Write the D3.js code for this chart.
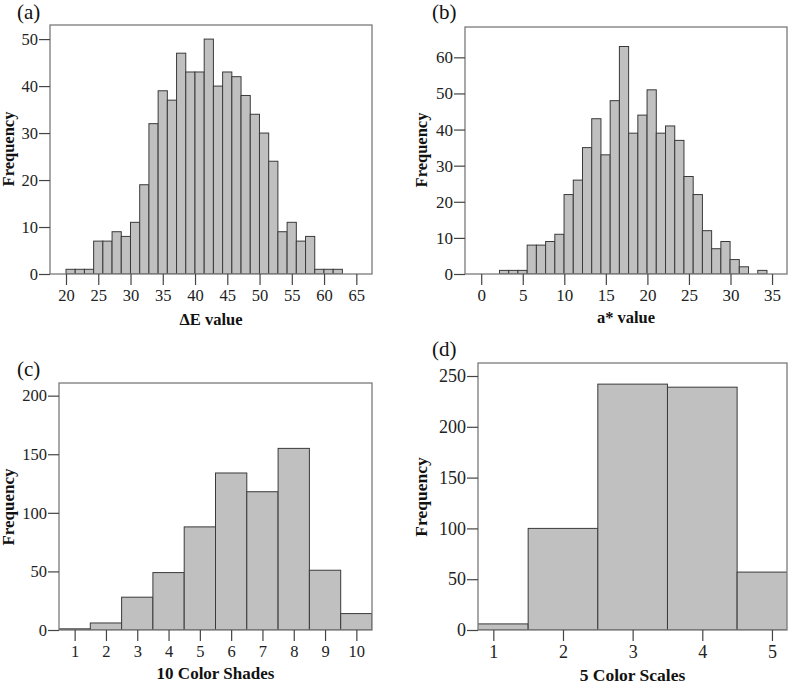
<!DOCTYPE html>
<html>
<head>
<meta charset="utf-8">
<script src="https://cdn.jsdelivr.net/npm/d3@7"></script>
<style>
  html, body { margin: 0; padding: 0; background: #fff; }
  svg { display: block; }
  text { font-family: "Liberation Serif", "Times New Roman", serif; fill: #111; }
</style>
</head>
<body>
<svg id="chart" width="789" height="685"></svg>
<script>
// ---------------- DATA ----------------
// (a) ΔE value histogram
const deltaEBinStart = 20.0;
const deltaEBinWidth = 1.428;
const deltaECounts = [1, 1, 1, 7, 7, 9, 8, 11, 19, 32, 39, 37, 47, 43, 43, 50, 40, 43, 42, 38, 34, 30, 24, 9, 11, 7, 8, 1, 1, 1];
const deltaEXTicks = [20, 25, 30, 35, 40, 45, 50, 55, 60, 65];
const deltaEYTicks = [0, 10, 20, 30, 40, 50];

// (b) a* value histogram
const aStarBinStart = 2.2;
const aStarBinWidth = 1.11;
const aStarCounts = [1, 1, 1, 8, 8, 9, 11, 22, 26, 35, 43, 33, 48, 63, 39, 44, 51, 39, 41, 37, 27, 22, 12, 7, 9, 4, 2, 0, 1];
const aStarXTicks = [0, 5, 10, 15, 20, 25, 30, 35];
const aStarYTicks = [0, 10, 20, 30, 40, 50, 60];

// (c) 10 color shades
const shadeCategories = [1, 2, 3, 4, 5, 6, 7, 8, 9, 10];
const shadeCounts = [1, 6, 28, 49, 88, 134, 118, 155, 51, 14];
const shadeYTicks = [0, 50, 100, 150, 200];

// (d) 5 color scales
const scaleCategories = [1, 2, 3, 4, 5];
const scaleCounts = [6, 100, 242, 239, 57];
const scaleYTicks = [0, 50, 100, 150, 200, 250];

const panelLetters = ["(a)", "(b)", "(c)", "(d)"];
const xTitles = ["\u0394E value", "a* value", "10 Color Shades", "5 Color Scales"];
const yTitle = "Frequency";

// ---------------- BUILD ----------------
const binsFrom = (start, width, counts) =>
  counts.map((c, i) => ({ x0: start + i * width, x1: start + (i + 1) * width, v: c }));
const catBins = (cats, counts) =>
  cats.map((c, i) => ({ x0: c - 0.5, x1: c + 0.5, v: counts[i] }));

const panels = [
  { id: "a", frame: { l: 50, t: 25, r: 372, b: 274 }, xDom: [17.52, 67.43], yDom: [0, 53.0],
    bins: binsFrom(deltaEBinStart, deltaEBinWidth, deltaECounts), xTicks: deltaEXTicks, yTicks: deltaEYTicks,
    letter: { x: 17, y: 19 }, yt: { x: 14, y: 149 }, xt: { y: 325 }, fs: 16.5, tfs: 16.5 },
  { id: "b", frame: { l: 465, t: 27, r: 787, b: 274 }, xDom: [-1.95, 36.8], yDom: [0, 68.4],
    bins: binsFrom(aStarBinStart, aStarBinWidth, aStarCounts), xTicks: aStarXTicks, yTicks: aStarYTicks,
    letter: { x: 432, y: 19 }, yt: { x: 427, y: 150 }, xt: { y: 323 }, fs: 17, tfs: 16.5 },
  { id: "c", frame: { l: 59, t: 383, r: 372, b: 630 }, xDom: [0.5, 10.5], yDom: [0, 210.8],
    bins: catBins(shadeCategories, shadeCounts), xTicks: shadeCategories, yTicks: shadeYTicks,
    letter: { x: 17, y: 376 }, yt: { x: 14, y: 507 }, xt: { y: 679 }, fs: 16.5, tfs: 17 },
  { id: "d", frame: { l: 478, t: 363, r: 787, b: 630 }, xDom: [0.78, 5.216], yDom: [0, 262.8],
    bins: catBins(scaleCategories, scaleCounts), xTicks: scaleCategories, yTicks: scaleYTicks,
    letter: { x: 432, y: 356 }, yt: { x: 427, y: 497 }, xt: { y: 681 }, fs: 18, tfs: 17.5 }
];

const svg = d3.select("#chart");
const defs = svg.append("defs");

panels.forEach((p, idx) => {
  const f = p.frame;
  const x = d3.scaleLinear().domain(p.xDom).range([f.l, f.r]);
  const y = d3.scaleLinear().domain(p.yDom).range([f.b, f.t]);
  const g = svg.append("g");

  defs.append("clipPath").attr("id", "clip-" + p.id)
    .append("rect").attr("x", f.l).attr("y", f.t).attr("width", f.r - f.l).attr("height", f.b - f.t);

  // bars
  g.append("g").attr("clip-path", "url(#clip-" + p.id + ")")
    .selectAll("rect").data(p.bins.filter(d => d.v > 0)).join("rect")
    .attr("x", d => x(d.x0))
    .attr("y", d => y(d.v))
    .attr("width", d => x(d.x1) - x(d.x0))
    .attr("height", d => y(0) - y(d.v))
    .attr("fill", "#c0c0c0")
    .attr("stroke", "#3a3a3a")
    .attr("stroke-width", 1);

  // frame
  g.append("rect")
    .attr("x", f.l).attr("y", f.t).attr("width", f.r - f.l).attr("height", f.b - f.t)
    .attr("fill", "none").attr("stroke", "#7a7a7a").attr("stroke-width", 1.3);

  // y axis
  const yAxis = d3.axisLeft(y).tickValues(p.yTicks).tickSize(11).tickPadding(1).tickFormat(d3.format("d"));
  const ya = g.append("g").attr("transform", `translate(${f.l},0)`).call(yAxis);
  ya.select(".domain").remove();
  ya.selectAll(".tick line").attr("stroke", "#444").attr("stroke-width", 1.2);
  ya.selectAll(".tick text").style("font-size", p.fs + "px").style("fill", "#222");

  // x axis
  const xAxis = d3.axisBottom(x).tickValues(p.xTicks).tickSize(11).tickPadding(4).tickFormat(d3.format("d"));
  const xa = g.append("g").attr("transform", `translate(0,${f.b})`).call(xAxis);
  xa.select(".domain").remove();
  xa.selectAll(".tick line").attr("stroke", "#444").attr("stroke-width", 1.2);
  xa.selectAll(".tick text").style("font-size", p.fs + "px").style("fill", "#222");

  // panel letter
  g.append("text").attr("x", p.letter.x).attr("y", p.letter.y)
    .style("font-size", "21px").text(panelLetters[idx]);

  // axis titles
  g.append("text")
    .attr("transform", `translate(${p.yt.x},${p.yt.y}) rotate(-90)`)
    .attr("text-anchor", "middle").style("font-weight", "bold").style("font-size", p.tfs + "px")
    .text(yTitle);
  g.append("text")
    .attr("x", (f.l + f.r) / 2).attr("y", p.xt.y)
    .attr("text-anchor", "middle").style("font-weight", "bold").style("font-size", p.tfs + "px")
    .text(xTitles[idx]);
});
</script>
</body>
</html>
